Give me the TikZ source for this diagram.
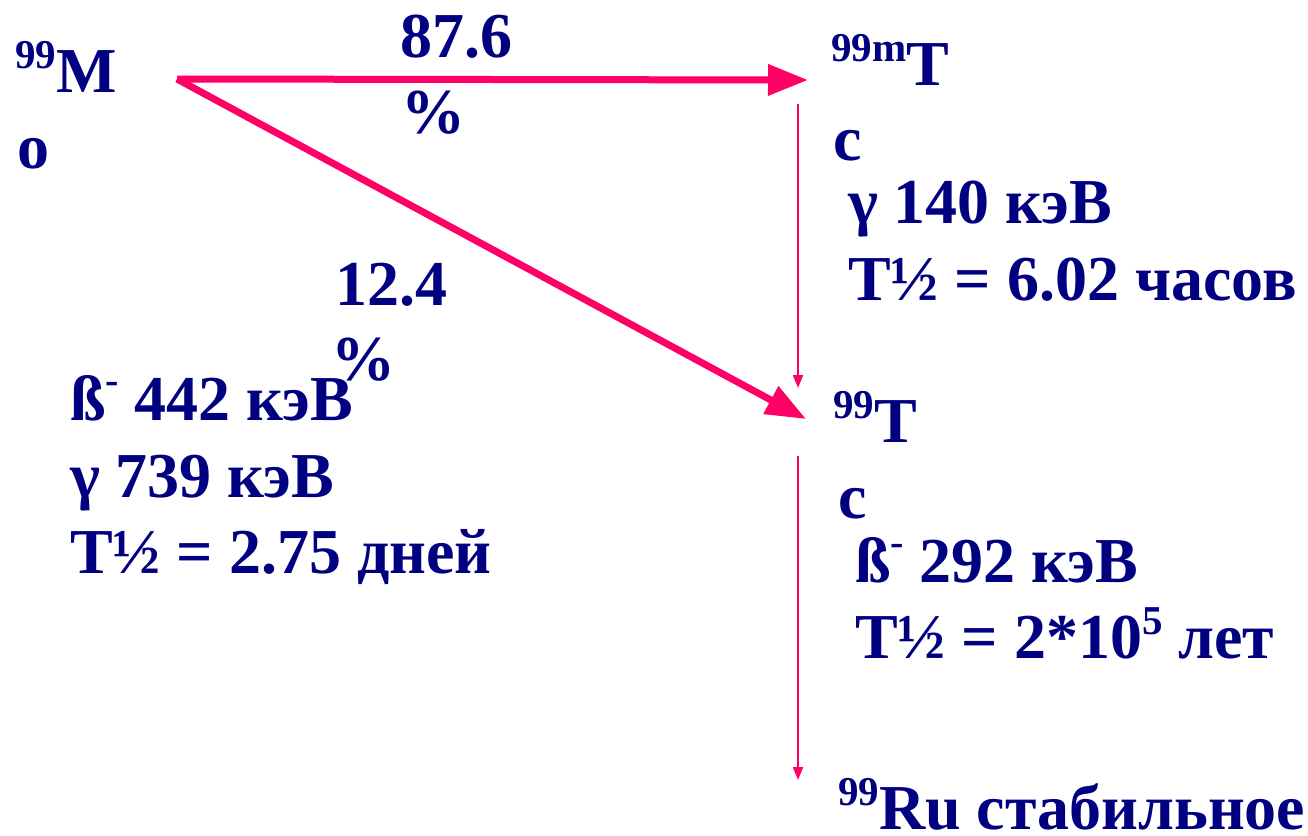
\documentclass[tikz,border=0pt]{standalone}
\usepackage{fontspec}
\setmainfont{Liberation Serif}
\usetikzlibrary{arrows.meta}
\definecolor{navy}{RGB}{0,0,128}
\definecolor{decay}{RGB}{255,0,102}
\newcommand{\isosup}[1]{\raisebox{24pt}{\fontsize{41}{41}\selectfont #1}}
\newcommand{\betaminus}{ß\raisebox{27pt}{\fontsize{40}{40}\selectfont -}}
\tikzset{
  lbl/.style={anchor=base west, inner sep=0pt, outer sep=0pt, text=navy,
    font=\fontsize{64}{64}\selectfont\bfseries},
  bigarrow/.style={draw=decay, line width=7pt, -{Triangle[length=40pt,width=30pt]}},
  thinarrow/.style={draw=decay, line width=2pt, -{Triangle[length=13pt,width=10pt]}}
}
\begin{document}
\begin{tikzpicture}[x=1pt,y=-1pt]
\useasboundingbox (0,0) rectangle (1308,835);
% Mo-99
\node[lbl] (mo1) at (15,92) {\isosup{99}M};
\node[lbl] (mo2) at (17,168) {o};
\node[lbl] (p1a) at (400,57) {87.6};
\node[lbl] (p1b) at (401,133) {\%};
\node[lbl] (p2a) at (335,305) {12.4};
\node[lbl] (p2b) at (331,380) {\%};
\node[lbl] (mo3) at (70,420) {\betaminus{} 442 кэВ};
\node[lbl] (mo4) at (70,497) {γ 739 кэВ};
\node[lbl] (mo5) at (70,573) {T½ = 2.75 дней};
% Tc-99m
\node[lbl] (tm1) at (831,85) {\isosup{99m}T};
\node[lbl] (tm2) at (833,160) {c};
\node[lbl] (tm3) at (848,223) {γ 140 кэВ};
\node[lbl] (tm4) at (848,300) {T½ = 6.02 часов};
% Tc-99
\node[lbl] (tc1) at (833,442) {\isosup{99}T};
\node[lbl] (tc2) at (838,518) {c};
\node[lbl] (tc3) at (855,582) {\betaminus{} 292 кэВ};
\node[lbl] (tc4) at (855,658) {T½ = 2*10\isosup{5} лет};
% Ru-99
\node[lbl] (ru) at (838,829) {\isosup{99}Ru стабильное};
% connectors
\coordinate (moStart) at (177,79);
\coordinate (tmTip) at (808,80);
\coordinate (tcTip) at (806,419);
\coordinate (tmTop) at (798,104);
\coordinate (tmBot) at (798,388);
\coordinate (tcTop) at (798,456);
\coordinate (tcBot) at (798,780);
\draw[bigarrow] (moStart) -- (tmTip);
\draw[bigarrow] (moStart) -- (tcTip);
\draw[thinarrow] (tmTop) -- (tmBot);
\draw[thinarrow] (tcTop) -- (tcBot);
\end{tikzpicture}
\end{document}
